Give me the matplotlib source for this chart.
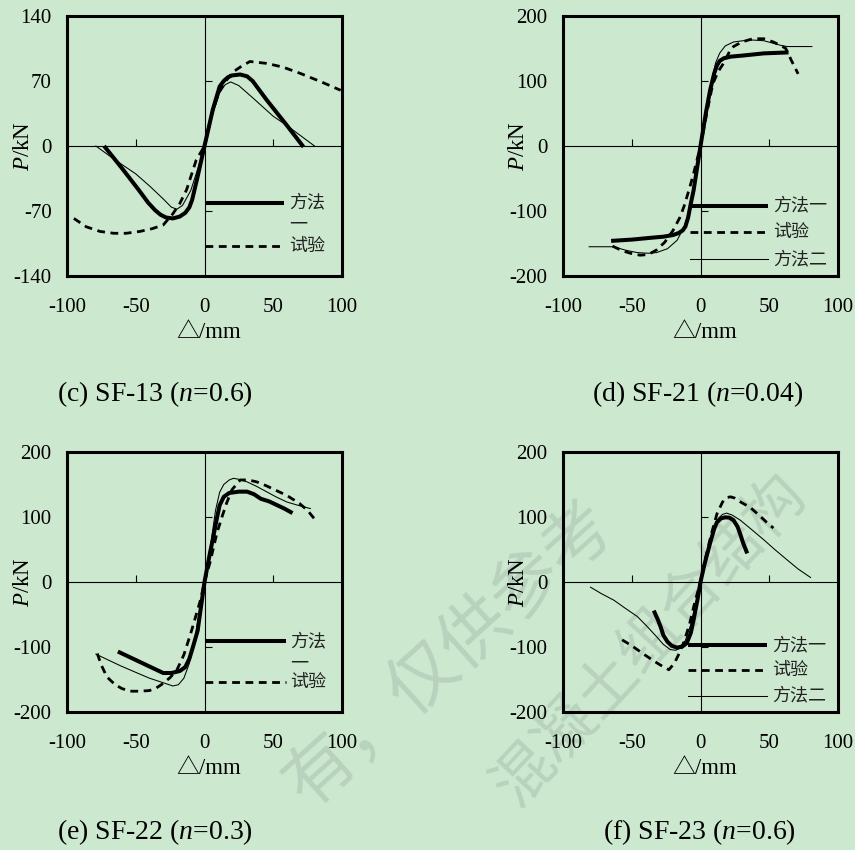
import numpy as np
import matplotlib.pyplot as plt

plt.rcParams['font.family'] = ['Liberation Serif', 'Noto Sans CJK SC', 'DejaVu Sans']
plt.rcParams['mathtext.fontset'] = 'custom'
plt.rcParams['mathtext.rm'] = 'Liberation Serif'
plt.rcParams['mathtext.it'] = 'Liberation Serif:italic'
plt.rcParams['axes.unicode_minus'] = False

BG = '#cce8cf'
WM = '#b9d2bd'

# ---- (c) SF-13 (n=0.6) ----
c_m1_x = [-73, -60, -48, -41, -36, -32, -28, -23, -18, -14, -11, -9, -5, 0, 6, 11, 14, 17, 20, 26, 31, 35, 45, 60, 72]
c_m1_y = [0, -24, -47, -61, -69, -74, -77, -78, -76, -72, -66, -58, -33, 0, 39, 64, 70, 74, 76, 77, 75, 70, 50, 22, -1]
c_m2_x = [-79, -65, -50, -40, -30, -24, -20, -16, -10, -5, 0, 6, 11, 15, 19, 25, 35, 50, 60, 70, 80]
c_m2_y = [0, -15, -30, -43, -57, -66, -68, -64, -48, -25, 0, 35, 57, 66, 69, 65, 52, 32, 22, 11, 0]
c_test_x = [-95, -86, -76, -66, -57, -47, -38, -30, -23, -18, -13, -6, 0, 6, 11, 16, 21, 26, 33, 45, 57, 70, 85, 99]
c_test_y = [-78, -87, -92, -94, -94, -92, -89, -85, -73, -62, -47, -15, 0, 38, 60, 71, 80, 85, 91, 89, 85, 78, 69, 60]

# ---- (d) SF-21 (n=0.04) ----
d_m1_x = [-65, -50, -35, -27, -20, -16, -13, -11, -9, -7, -5, 0, 4, 7, 10, 12, 14, 17, 22, 30, 46, 64]
d_m1_y = [-146, -144, -141, -139.5, -137, -134, -130, -124, -110, -88, -68, 0, 52, 86, 112, 124, 131, 135, 137.5, 139, 142.5, 144]
d_m2_x = [-81, -63, -55, -46, -38, -32, -24, -17, -12, -8, -4, 0, 4, 8, 11, 14, 18, 24, 31, 38, 46, 53, 58, 63, 70, 81]
d_m2_y = [-155, -155, -160, -164, -165, -164, -158, -145, -125, -100, -55, 0, 55, 100, 128, 143, 154, 160, 162, 163, 162, 158, 155, 153, 153, 153]
d_test_x = [-64, -57, -51, -44, -38, -32, -26, -20, -15, -12, -8, -5, 0, 5, 9, 13, 17, 21, 24, 30, 38, 46, 53, 58, 62, 66, 71]
d_test_y = [-154, -161, -165, -168, -167, -160, -148, -130, -110, -93, -65, -42, 0, 55, 96, 115, 128, 145, 153, 160, 165, 165, 160, 155, 150, 132, 111]

# ---- (e) SF-22 (n=0.3) ----
e_m1_x = [-63, -55, -47, -38, -30, -24, -18, -14, -11, -8, -5, 0, 4, 6, 9, 11, 14, 18, 25, 31, 36, 41, 47, 53, 58, 64]
e_m1_y = [-107, -115, -123, -132, -140, -140, -137, -131, -118, -97, -75, 0, 45, 65, 98, 118, 131, 137, 139, 139, 135, 128, 124, 118, 113, 106]
e_m2_x = [-79, -70, -61, -50, -40, -30, -23, -19, -15, -11, -7, -3, 0, 4, 8, 11, 14, 18, 21, 25, 31, 38, 45, 52, 60, 68, 77]
e_m2_y = [-111, -120, -129, -139, -148, -155, -160, -158, -148, -125, -88, -35, 0, 50, 110, 138, 150, 157, 159.5, 158, 154, 147, 139, 131, 123, 118, 113]
e_test_x = [-78, -75, -71, -65, -60, -54, -47, -40, -35, -30, -25, -20, -15, -10, -6, -3, 0, 4, 9, 13, 16, 20, 26, 32, 38, 45, 52, 60, 69, 75, 80]
e_test_y = [-110, -128, -146, -158, -164, -168, -168, -167, -163, -156, -147, -135, -112, -79, -50, -28, 0, 30, 75, 102, 121, 142, 157, 157, 154, 148, 141, 133, 121, 110, 97]

# ---- (f) SF-23 (n=0.6) ----
f_m1_x = [-34, -31, -29, -27, -24, -21, -17, -13, -10, -7, -5, -2, 0, 3, 7, 10, 12, 15, 18, 21, 24, 27, 29, 31, 34]
f_m1_y = [-44, -58, -69, -82, -92, -98, -101, -99, -94, -78, -58, -25, 0, 28, 60, 82, 92, 98, 99.5, 99, 95, 85, 73, 60, 44]
f_m2_x = [-80, -72, -63, -55, -46, -39, -32, -27, -22, -18, -15, -11, -7, -3, 0, 4, 9, 13, 16, 19, 23, 29, 37, 46, 54, 63, 71, 80]
f_m2_y = [-8, -18, -28, -40, -53, -68, -84, -96, -104, -105, -102, -90, -65, -30, 0, 38, 80, 98, 104, 106, 103, 95, 81, 65, 50, 34, 20, 7]
f_test_x = [-57, -50, -42, -35, -29, -23, -19, -16, -12, -8, -4, 0, 4, 8, 12, 16, 19, 22, 25, 30, 36, 43, 48, 53]
f_test_y = [-89, -98, -110, -120, -128, -135, -125, -112, -92, -65, -30, 0, 40, 75, 105, 123, 130, 131, 129, 122, 115, 102, 92, 83]

x_ticks = [-100, -50, 0, 50, 100]
x_inner = [-50, 50]

STYLE = {
    'm1': dict(color='k', lw=2.9, solid_capstyle='butt', solid_joinstyle='round'),
    'test': dict(color='k', lw=2.0, ls=(0, (2.8, 2.0))),
    'm2': dict(color='k', lw=0.75),
}

panels = [
    dict(pos=(67, 16), ymax=140, yticks=[140, 70, 0, -70, -140], y_inner=[70, -70],
         series=[('test', c_test_x, c_test_y), ('m2', c_m2_x, c_m2_y), ('m1', c_m1_x, c_m1_y)],
         caption='(c) SF-13 ($n$=0.6)', cap=(57, 401),
         legend=[('m1', -61, '方法一'), ('test', -108, '试验')], leg_x=(0, 58, 61.5), wrap=True),
    dict(pos=(563, 16), ymax=200, yticks=[200, 100, 0, -100, -200], y_inner=[100, -100],
         series=[('test', d_test_x, d_test_y), ('m2', d_m2_x, d_m2_y), ('m1', d_m1_x, d_m1_y)],
         caption='(d) SF-21 ($n$=0.04)', cap=(592, 401),
         legend=[('m1', -92, '方法一'), ('test', -132, '试验'), ('m2', -174, '方法二')],
         leg_x=(-8, 49, 52.5), wrap=False),
    dict(pos=(67, 452), ymax=200, yticks=[200, 100, 0, -100, -200], y_inner=[100, -100],
         series=[('test', e_test_x, e_test_y), ('m2', e_m2_x, e_m2_y), ('m1', e_m1_x, e_m1_y)],
         caption='(e) SF-22 ($n$=0.3)', cap=(57, 839),
         legend=[('m1', -91, '方法一'), ('test', -154, '试验')], leg_x=(0, 59, 62), wrap=True),
    dict(pos=(563, 452), ymax=200, yticks=[200, 100, 0, -100, -200], y_inner=[100, -100],
         series=[('test', f_test_x, f_test_y), ('m2', f_m2_x, f_m2_y), ('m1', f_m1_x, f_m1_y)],
         caption='(f) SF-23 ($n$=0.6)', cap=(603, 839),
         legend=[('m1', -97, '方法一'), ('test', -135, '试验'), ('m2', -175, '方法二')],
         leg_x=(-9, 48.5, 51.8), wrap=False),
]

W, H = 855, 850
fig = plt.figure(figsize=(W / 100, H / 100), dpi=100, facecolor=BG)

# faint watermark behind everything
fig.text(450 / W, 1 - 655 / H, '有，仅供参考', fontsize=50, color=WM, family='Noto Sans CJK SC',
         fontweight='light', rotation=42, ha='center', va='center', rotation_mode='anchor', zorder=-5)
fig.text(650 / W, 1 - 640 / H, '混凝土组合结构', fontsize=44, color=WM, family='Noto Sans CJK SC',
         fontweight='light', rotation=47, ha='center', va='center', rotation_mode='anchor', zorder=-5)

for p in panels:
    left, top = p['pos']
    ax = fig.add_axes([left / W, 1 - (top + 260) / H, 275 / W, 260 / H])
    ax.set_facecolor('none')
    ym = p['ymax']
    ax.set_xlim(-100, 100)
    ax.set_ylim(-ym, ym)
    ax.set_xticks(x_ticks)
    ax.set_yticks(p['yticks'])
    ax.tick_params(axis='both', length=0, labelsize=15)
    ax.tick_params(axis='x', pad=16)
    ax.tick_params(axis='y', pad=11)
    for s in ax.spines.values():
        s.set_linewidth(2.2)

    # centre axes with inward ticks
    ax.axhline(0, color='k', lw=0.8)
    ax.axvline(0, color='k', lw=0.8)
    ax.plot(x_inner, [0] * len(x_inner), ls='none', marker=2, ms=5, mew=0.8, color='k')
    ax.plot([0] * len(p['y_inner']), p['y_inner'], ls='none', marker=1, ms=5, mew=0.8, color='k')

    for key, xs, ys in p['series']:
        ax.plot(xs, ys, **STYLE[key])

    # legend drawn by hand to keep the original layout
    x0, x1, tx = p['leg_x']
    for key, yy, lab in p['legend']:
        ax.plot([x0, x1], [yy, yy], **STYLE[key])
        if p['wrap'] and key == 'm1':
            ax.text(tx, yy, lab[:2], fontsize=13, color='#222222', family='Noto Sans CJK SC',
                    va='center', ha='left')
            ax.annotate(lab[2:], (tx, yy), xytext=(0, -16), textcoords='offset points',
                        fontsize=13, color='#222222', family='Noto Sans CJK SC', va='center', ha='left')
        else:
            ax.text(tx, yy, lab, fontsize=13, color='#222222', family='Noto Sans CJK SC',
                    va='center', ha='left')

    ax.text(0.515, -0.217, '△/mm', transform=ax.transAxes, fontsize=16.5, ha='center', va='center')
    ax.text(-0.16, 0.5, '$P$/kN', transform=ax.transAxes, fontsize=16.5, rotation=90,
            ha='center', va='center')
    fig.text(p['cap'][0] / W, 1 - p['cap'][1] / H, p['caption'], fontsize=20,
             ha='left', va='baseline')

fig.savefig('out.png', dpi=100, facecolor=BG)
